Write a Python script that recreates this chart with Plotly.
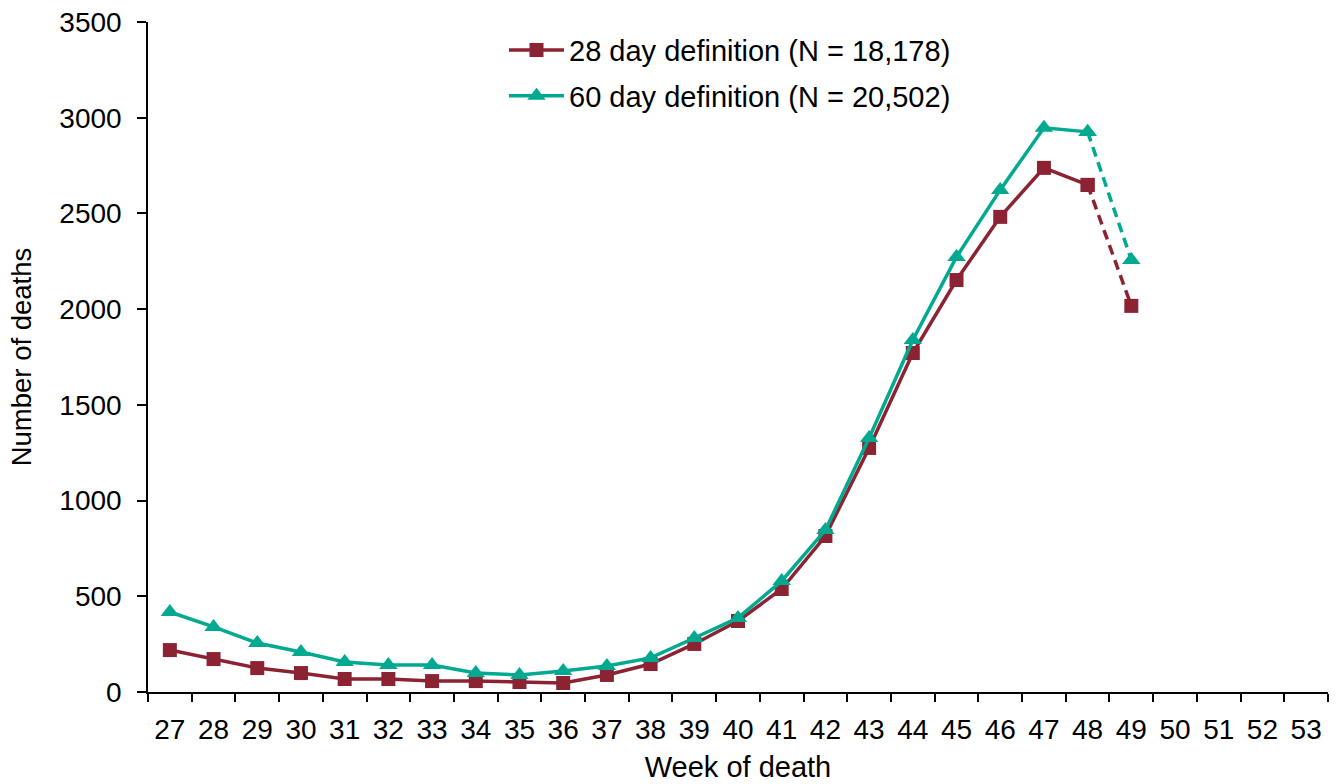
import plotly.graph_objects as go

weeks = list(range(27, 54))
deaths_28 = [219, 172, 125, 99, 68, 68, 57, 57, 52, 47, 89, 146, 251, 371, 538, 815,
             1275, 1771, 2152, 2482, 2738, 2649, 2017]
deaths_60 = [418, 340, 256, 209, 157, 141, 141, 99, 89, 110, 136, 178, 282, 387, 580, 846,
             1327, 1839, 2273, 2623, 2947, 2926, 2257]
series_names = ["28 day definition (N = 18,178)", "60 day definition (N = 20,502)"]

RED = "#8B2332"
TEAL = "#00A98F"
FONT = "Liberation Sans, Arial, sans-serif"

n_final = len(deaths_28) - 1  # last point is provisional (dashed)
wk_data = weeks[:len(deaths_28)]

fig = go.Figure()
for i, (vals, name, color, sym, msize) in enumerate([
    (deaths_28, series_names[0], RED, "square", 14),
    (deaths_60, series_names[1], TEAL, "triangle-up", 16),
]):
    fig.add_trace(go.Scatter(
        x=wk_data[:n_final], y=vals[:n_final], name=name, mode="lines+markers",
        legendgroup=f"g{i}",
        line=dict(color=color, width=3.5),
        marker=dict(symbol=sym, size=msize, color=color),
    ))
    fig.add_trace(go.Scatter(
        x=wk_data[n_final - 1:], y=vals[n_final - 1:], name=name, mode="lines+markers",
        legendgroup=f"g{i}", showlegend=False,
        line=dict(color=color, width=3.5, dash="10px,6px"),
        marker=dict(symbol=sym, size=msize, color=color),
    ))

fig.update_layout(
    width=1340, height=784,
    margin=dict(l=148, r=12, t=22, b=92),
    paper_bgcolor="white", plot_bgcolor="white",
    font=dict(family=FONT, size=28, color="black"),
    showlegend=True,
    legend=dict(
        x=0.3017, y=0.996, xanchor="left", yanchor="top",
        font=dict(size=29, family=FONT), bgcolor="rgba(0,0,0,0)",
        itemwidth=55, traceorder="grouped", tracegroupgap=5,
    ),
    xaxis=dict(
        range=[26.5, 53.5], automargin=False,
        tickmode="array", tickvals=weeks, ticktext=[str(w) for w in weeks],
        ticks="", ticklabelstandoff=12, showgrid=False, zeroline=False,
        showline=True, linecolor="black", linewidth=1.5,
        tickfont=dict(size=28),
        minor=dict(tick0=26.5, dtick=1, ticks="outside", ticklen=8,
                   tickwidth=1.5, tickcolor="black", showgrid=False),
        title=dict(text="Week of death", font=dict(size=29), standoff=12),
    ),
    yaxis=dict(
        range=[0, 3500], tickmode="linear", tick0=0, dtick=500, automargin=False,
        ticks="outside", ticklen=9, tickwidth=1.5, tickcolor="black",
        ticklabelstandoff=10,
        showgrid=False, zeroline=False,
        showline=True, linecolor="black", linewidth=1.5,
        tickfont=dict(size=28),
        title=dict(text="Number of deaths", font=dict(size=27.5), standoff=20),
    ),
)

fig.write_html("out.html", config={"displayModeBar": False},
               post_script="document.body.style.margin='0';")
